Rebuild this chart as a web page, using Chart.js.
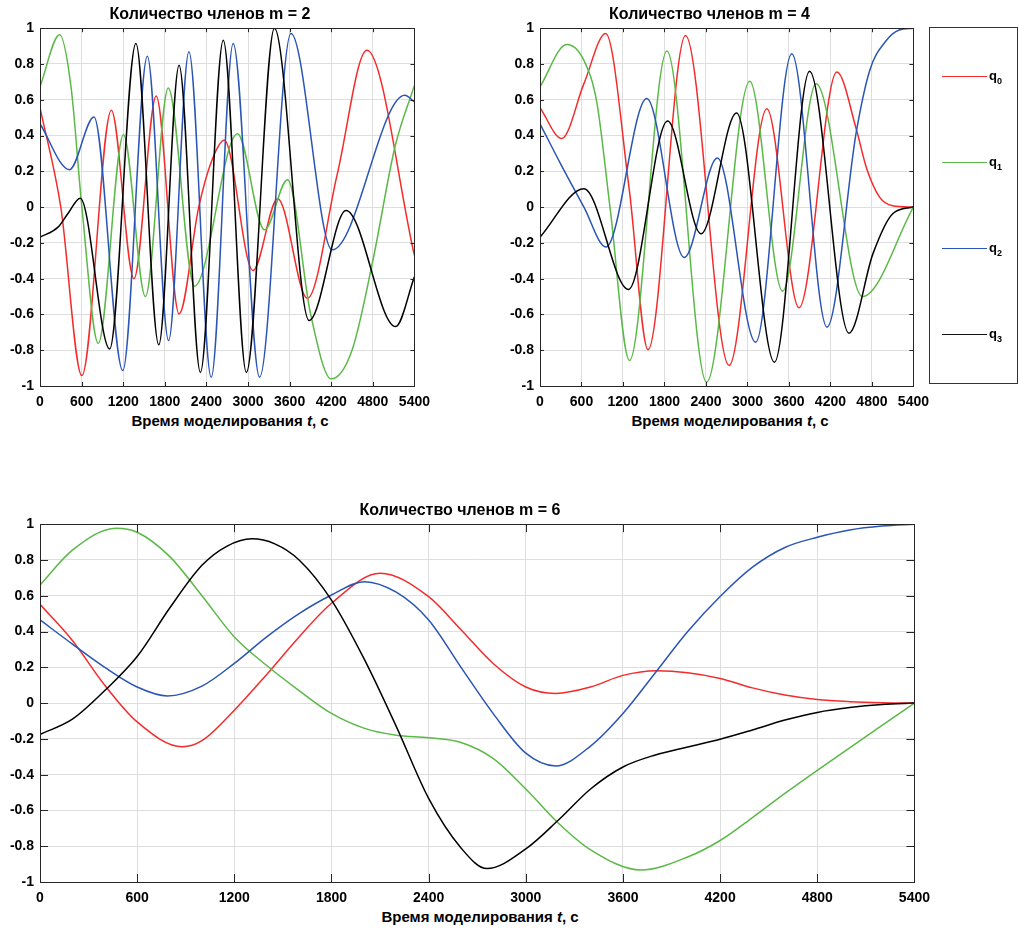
<!DOCTYPE html>
<html><head><meta charset="utf-8">
<script src="https://cdn.jsdelivr.net/npm/chart.js@4.4.0/dist/chart.umd.min.js"></script>
<style>
body{margin:0;background:#fff;width:1019px;height:932px;position:relative;overflow:hidden;font-family:"Liberation Sans",Arial,sans-serif;}
canvas{position:absolute;}
.xl{position:absolute;font-weight:bold;font-size:15px;line-height:18px;text-align:center;white-space:nowrap;color:#000;width:400px;}
#legend{position:absolute;left:929px;top:27px;width:89px;height:357px;border:1px solid #333;box-sizing:border-box;}
.li{position:absolute;left:942px;width:70px;height:20px;}
.li .ln{position:absolute;left:0;top:0;width:45px;height:0;border-top:1.5px solid;}
.li .tx{position:absolute;left:47px;top:-8px;font-size:13px;font-weight:bold;color:#000;}
.li sub{font-size:9px;}
</style></head>
<body>
<canvas id="c1" width="438" height="408" style="left:0;top:0"></canvas>
<canvas id="c2" width="437" height="408" style="left:500px;top:0"></canvas>
<canvas id="c3" width="938" height="408" style="left:0;top:496px"></canvas>
<div class="xl" style="left:30px;top:412px">Время моделирования <i>t</i>, с</div>
<div class="xl" style="left:530px;top:412px">Время моделирования <i>t</i>, с</div>
<div class="xl" style="left:280px;top:908px">Время моделирования <i>t</i>, с</div>
<div id="legend"></div>
<div class="li" style="top:76px"><span class="ln" style="border-color:#f52b2b"></span><span class="tx">q<sub>0</sub></span></div>
<div class="li" style="top:162px"><span class="ln" style="border-color:#5ab947"></span><span class="tx">q<sub>1</sub></span></div>
<div class="li" style="top:248px"><span class="ln" style="border-color:#2a55b5"></span><span class="tx">q<sub>2</sub></span></div>
<div class="li" style="top:334px"><span class="ln" style="border-color:#111"></span><span class="tx">q<sub>3</sub></span></div>
<script>
// ---- data: m = 2 (time of read point, value) ----
const t2_q0 = [0, 300, 604, 1029, 1355, 1676, 2006, 2289, 2478, 2657, 3071, 3428, 3857, 4285, 4714, 5400];
const v2_q0 = [0.556, 0.0, -0.942, 0.541, -0.40, 0.621, -0.597, 0.0, 0.26, 0.373, -0.354, 0.047, -0.51, 0.18, 0.877, -0.27];
const t2_q1 = [0, 283, 448, 604, 840, 1204, 1520, 1850, 2228, 2848, 3238, 3571, 3904, 4200, 4500, 4800, 5119, 5400];
const v2_q1 = [0.672, 0.963, 0.67, 0.0, -0.761, 0.405, -0.50, 0.666, -0.442, 0.41, -0.127, 0.153, -0.60, -0.96, -0.80, -0.30, 0.336, 0.68];
const t2_q2 = [0, 425, 779, 1194, 1548, 1855, 2148, 2469, 2786, 3167, 3619, 4214, 5261, 5400];
const v2_q2 = [0.466, 0.209, 0.504, -0.914, 0.843, -0.746, 0.868, -0.951, 0.914, -0.951, 0.97, -0.239, 0.625, 0.588];
const t2_q3 = [0, 260, 401, 581, 1005, 1383, 1713, 2006, 2313, 2643, 2976, 3381, 3881, 4414, 5128, 5400];
const v2_q3 = [-0.168, -0.112, -0.037, 0.05, -0.793, 0.914, -0.77, 0.793, -0.924, 0.933, -0.924, 1.0, -0.634, -0.019, -0.668, -0.39];
// ---- data: m = 4 ----
const t4_q0 = [0, 315, 635, 950, 1290, 1562, 2104, 2734, 3280, 3746, 4293, 4578, 4720, 4910, 5100, 5400];
const v4_q0 = [0.556, 0.383, 0.69, 0.97, 0.10, -0.797, 0.959, -0.885, 0.55, -0.563, 0.755, 0.43, 0.22, 0.056, 0.008, 0.0];
const t4_q1 = [0, 386, 635, 824, 1012, 1294, 1835, 2409, 3033, 3508, 3993, 4663, 5400];
const v4_q1 = [0.672, 0.909, 0.82, 0.58, 0.0, -0.857, 0.873, -0.978, 0.703, -0.47, 0.69, -0.50, 0.0];
const t4_q2 = [0, 300, 635, 955, 1544, 2085, 2565, 3119, 3641, 4150, 4578, 4768, 5005, 5195, 5400];
const v4_q2 = [0.466, 0.24, 0.0, -0.223, 0.607, -0.282, 0.275, -0.755, 0.857, -0.671, 0.43, 0.764, 0.93, 0.99, 1.0];
const t4_q3 = [0, 635, 1280, 1845, 2329, 2843, 3390, 3898, 4468, 4815, 5100, 5400];
const v4_q3 = [-0.168, 0.103, -0.46, 0.481, -0.149, 0.526, -0.867, 0.76, -0.705, -0.26, -0.037, 0.0];
// ---- data: m = 6 ----
const t6_q0 = [0, 200, 400, 600, 879, 1000, 1200, 1400, 1600, 1800, 2100, 2400, 2600, 2800, 3000, 3184,
               3400, 3600, 3807, 4000, 4200, 4400, 4600, 4800, 5000, 5200, 5400];
const v6_q0 = [0.552, 0.35, 0.10, -0.105, -0.244, -0.21, -0.04, 0.16, 0.37, 0.558, 0.726, 0.595, 0.41, 0.22, 0.09, 0.054,
               0.09, 0.155, 0.181, 0.17, 0.138, 0.085, 0.045, 0.02, 0.008, 0.002, 0.0];
const t6_q1 = [0, 200, 470, 600, 800, 1000, 1200, 1400, 1600, 1800, 2000, 2200, 2400, 2600, 2800, 3000, 3200, 3400,
               3712, 4000, 4200, 4400, 4600, 4800, 5000, 5200, 5400];
const v6_q1 = [0.66, 0.855, 0.978, 0.955, 0.82, 0.60, 0.37, 0.21, 0.07, -0.058, -0.14, -0.18, -0.194, -0.22, -0.31, -0.48, -0.67, -0.82,
               -0.933, -0.86, -0.768, -0.64, -0.505, -0.376, -0.25, -0.125, 0.0];
const t6_q2 = [0, 200, 400, 600, 787, 1000, 1200, 1400, 1600, 1800, 2002, 2200, 2400, 2600, 2800, 3000, 3184,
               3400, 3600, 3800, 4000, 4200, 4400, 4600, 4800, 5000, 5200, 5400];
const v6_q2 = [0.465, 0.33, 0.20, 0.09, 0.04, 0.095, 0.222, 0.37, 0.50, 0.604, 0.679, 0.62, 0.465, 0.20, -0.06, -0.28, -0.351,
               -0.24, -0.058, 0.17, 0.40, 0.596, 0.76, 0.87, 0.927, 0.968, 0.99, 1.0];
const t6_q3 = [0, 200, 400, 600, 800, 1000, 1150, 1308, 1450, 1600, 1800, 2000, 2200, 2400, 2600, 2760,
               3000, 3200, 3400, 3600, 3800, 4000, 4200, 4400, 4600, 4800, 5000, 5200, 5400];
const v6_q3 = [-0.175, -0.09, 0.07, 0.26, 0.53, 0.77, 0.875, 0.918, 0.89, 0.80, 0.576, 0.25, -0.13, -0.533, -0.81, -0.925,
               -0.815, -0.655, -0.48, -0.357, -0.29, -0.245, -0.202, -0.15, -0.095, -0.052, -0.025, -0.008, 0.0];

const seriesNames = ['q0', 'q1', 'q2', 'q3'];
const seriesColors = ['#f52b2b', '#5ab947', '#2a55b5', '#000000'];
const xTicksStep = 600;
const yTicksStep = 0.2;

const FONT = '"Liberation Sans", Arial, sans-serif';

function framePlugin(tickLen) {
  return {
    id: 'frame',
    afterDraw(chart) {
      const {ctx, chartArea: a, scales: {x, y}} = chart;
      ctx.save();
      ctx.strokeStyle = '#262626';
      ctx.lineWidth = 1;
      ctx.beginPath();
      x.ticks.forEach(t => {
        const px = Math.round(x.getPixelForValue(t.value)) + 0.5;
        ctx.moveTo(px, a.bottom); ctx.lineTo(px, a.bottom - tickLen);
        ctx.moveTo(px, a.top); ctx.lineTo(px, a.top + tickLen);
      });
      y.ticks.forEach(t => {
        const py = Math.round(y.getPixelForValue(t.value)) + 0.5;
        ctx.moveTo(a.left, py); ctx.lineTo(a.left + tickLen, py);
        ctx.moveTo(a.right, py); ctx.lineTo(a.right - tickLen, py);
      });
      ctx.stroke();
      ctx.strokeRect(Math.round(a.left) + 0.5, Math.round(a.top) + 0.5,
                     Math.round(a.right - a.left), Math.round(a.bottom - a.top));
      ctx.restore();
    }
  };
}

function makeChart(id, title, ts, vs, tickLen) {
  const datasets = ts.map((t, i) => ({
    label: seriesNames[i],
    data: t.map((tt, k) => ({x: tt, y: vs[i][k]})),
    borderColor: seriesColors[i],
    borderWidth: 1.5,
    pointRadius: 0,
    fill: false,
    cubicInterpolationMode: 'monotone',
    order: 3 - i
  }));
  new Chart(document.getElementById(id), {
    type: 'line',
    data: {datasets},
    options: {
      responsive: false, animation: false, devicePixelRatio: 1,
      layout: {padding: {left: 0, right: 18, top: 0, bottom: 0}},
      plugins: {
        legend: {display: false}, tooltip: {enabled: false},
        title: {display: true, text: title, color: '#000',
                font: {family: FONT, size: 16, weight: 'bold'}, padding: {top: 5, bottom: 4}}
      },
      scales: {
        x: {
          type: 'linear', min: 0, max: 5400,
          ticks: {stepSize: xTicksStep, color: '#000', padding: 8, maxRotation: 0, autoSkip: false,
                  font: {family: FONT, size: 14, weight: 'bold'},
                  callback: v => String(Math.round(v))},
          grid: {color: '#dedede', drawTicks: false},
          border: {display: false},
          afterFit(s) { s.height = 22; }
        },
        y: {
          min: -1, max: 1,
          ticks: {stepSize: yTicksStep, color: '#000', padding: 6,
                  font: {family: FONT, size: 14, weight: 'bold'},
                  callback: v => String(Math.round(v * 10) / 10)},
          grid: {color: '#dedede', drawTicks: false},
          border: {display: false},
          afterFit(s) { s.width = 40; }
        }
      }
    },
    plugins: [framePlugin(tickLen)]
  });
}

makeChart('c1', 'Количество членов m = 2', [t2_q0, t2_q1, t2_q2, t2_q3], [v2_q0, v2_q1, v2_q2, v2_q3], 4);
makeChart('c2', 'Количество членов m = 4', [t4_q0, t4_q1, t4_q2, t4_q3], [v4_q0, v4_q1, v4_q2, v4_q3], 4);
makeChart('c3', 'Количество членов m = 6', [t6_q0, t6_q1, t6_q2, t6_q3], [v6_q0, v6_q1, v6_q2, v6_q3], 8);
</script>
</body></html>
